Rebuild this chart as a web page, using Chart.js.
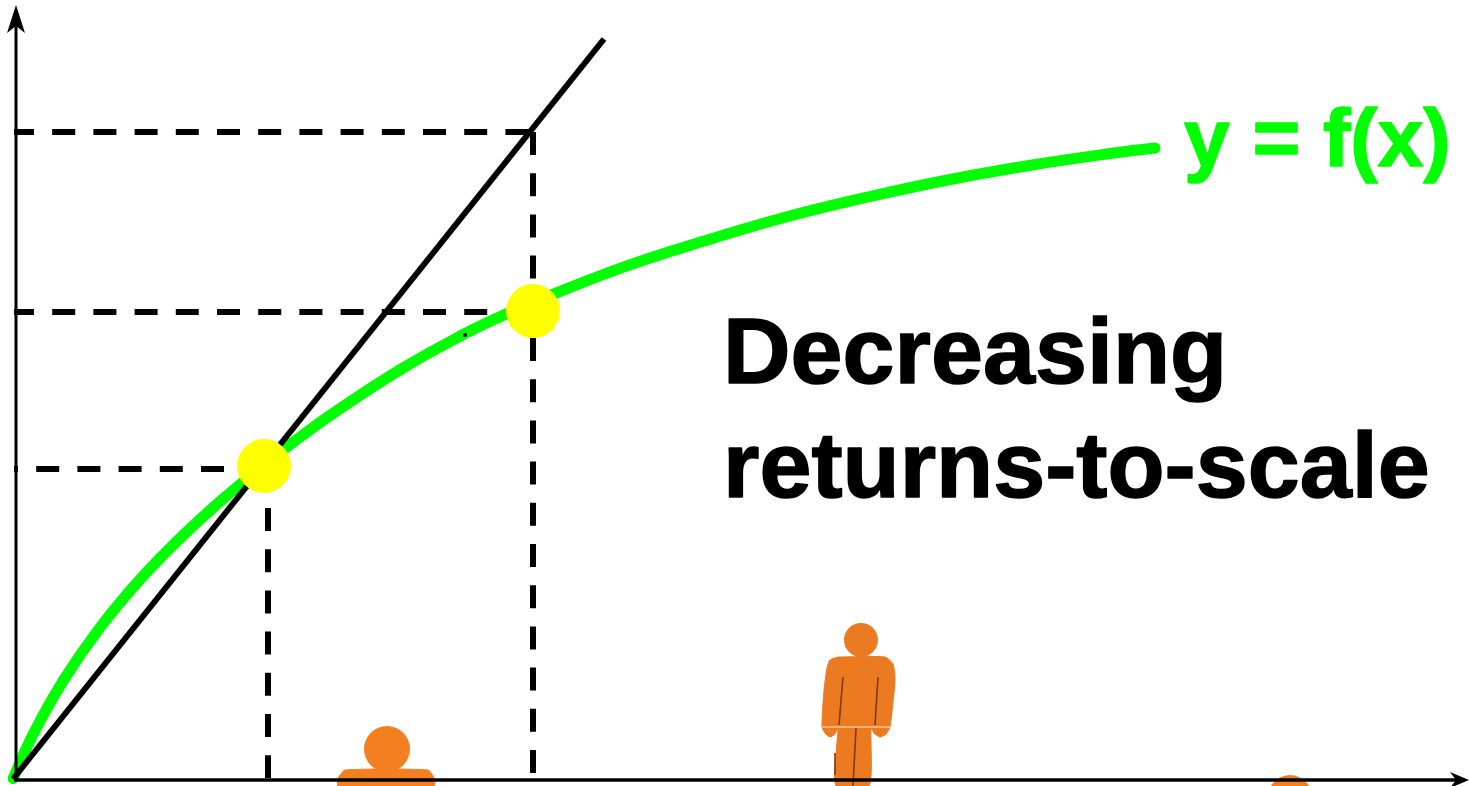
<!DOCTYPE html>
<html>
<head>
<meta charset="utf-8">
<title>Decreasing returns-to-scale</title>
<script src="https://cdn.jsdelivr.net/npm/chart.js@4"></script>
<style>
  html, body { margin: 0; padding: 0; background: #fff; overflow: hidden; }
  canvas { display: block; }
</style>
</head>
<body>
<canvas id="chart" width="1469" height="786"></canvas>
<script>
const curveX = [13, 33, 63, 100, 140, 180, 220, 264, 300, 333, 400, 460, 500, 533, 622, 704, 786, 868, 950, 1032, 1114, 1155];
const curveY = [778.5, 734.5, 681, 627.5, 579.5, 538.3, 501.5, 465, 437.2, 413.4, 369.8, 336.2, 316.7, 302.3, 267.6, 241, 217, 197, 179.5, 165, 153, 148];
const rayX = [13, 604];
const rayY = [779, 39];
const markerX = [264, 533];
const markerY = [466, 311];
const guideLevels = [132, 312, 469];
const guideEnds = [533, 533, 240];
const guideFeet = [533, 268];
const guideTops = [132, 508];
const guideBottoms = [775, 778];
const yAxisX = [16, 16];
const yAxisY = [780, 12];
const xAxisX = [14, 1462];
const xAxisY = [780, 780];
const speckX = [465];
const speckY = [335];

const tallBodyX = [838, 885, 893, 895, 890, 886, 880, 874, 871, 869, 836, 838, 835, 830, 825, 822, 824, 827, 830];
const tallBodyY = [657, 657, 664, 680, 727, 734, 737, 733, 728, 786, 786, 728, 734, 737, 733, 727, 690, 668, 660];
const tallHeadX = [861];
const tallHeadY = [640];
const seams = [
  { x: [843, 839], y: [677, 725] },
  { x: [878, 875], y: [677, 725] },
  { x: [856, 853], y: [728, 786] },
  { x: [835, 835], y: [753, 775] }
];
const midBodyX = [338, 345, 428, 434, 434, 338];
const midBodyY = [778, 770, 770, 778, 786, 786];
const midHeadX = [387];
const midHeadY = [749];
const farHeadX = [1290];
const farHeadY = [797];

const curveName = 'y = f(x)';
const captionLines = ['Decreasing', 'returns-to-scale'];

const GREEN = '#00ff00';
const ORANGE = '#ec7a20';

function pts(xs, ys) {
  return xs.map((x, i) => ({ x: x, y: ys[i] }));
}

function pathSet(xs, ys, color, width, extra) {
  return Object.assign({
    data: pts(xs, ys),
    showLine: true,
    borderColor: color,
    borderWidth: width,
    pointRadius: 0,
    tension: 0,
    fill: false
  }, extra || {});
}

function dotSet(xs, ys, color, radius) {
  return {
    data: pts(xs, ys),
    showLine: false,
    pointStyle: 'circle',
    pointRadius: radius,
    pointBorderWidth: 0,
    pointBackgroundColor: color
  };
}

function shapeSet(xs, ys, color) {
  return pathSet(xs.concat(xs[0]), ys.concat(ys[0]), color, 1, { fill: 'shape', backgroundColor: color, tension: 0.2 });
}

const dash = { borderDash: [23, 18.2], borderCapStyle: 'butt' };

// first dataset ends up on top
const datasets = [
  dotSet(markerX, markerY, '#ffff00', 27),
  pathSet(xAxisX, xAxisY, '#000', 3.5),
  pathSet(yAxisX, yAxisY, '#000', 3),
  dotSet(speckX, speckY, '#000', 2),
  pathSet(rayX, rayY, '#000', 6),
  pathSet(curveX, curveY, GREEN, 11, { tension: 0.4, borderCapStyle: 'round' }),
  pathSet([14, guideEnds[0]], [guideLevels[0], guideLevels[0]], '#000', 6, Object.assign({ borderDashOffset: 3 }, dash)),
  pathSet([14, guideEnds[1]], [guideLevels[1], guideLevels[1]], '#000', 6, Object.assign({ borderDashOffset: 3 }, dash)),
  pathSet([14, guideEnds[2]], [guideLevels[2], guideLevels[2]], '#000', 6, Object.assign({ borderDashOffset: 19 }, dash)),
  pathSet([guideFeet[0], guideFeet[0]], [guideTops[0], guideBottoms[0]], '#000', 6, dash),
  pathSet([guideFeet[1], guideFeet[1]], [guideTops[1], guideBottoms[1]], '#000', 6, dash)
];

seams.forEach(s => datasets.push(pathSet(s.x, s.y, '#7a3c0e', 1.6)));
datasets.push(
  pathSet([822, 890], [727, 727], '#fbe3cf', 1),
  shapeSet(tallBodyX, tallBodyY, ORANGE),
  dotSet(tallHeadX, tallHeadY, ORANGE, 17),
  shapeSet(midBodyX, midBodyY, '#f47f20'),
  dotSet(midHeadX, midHeadY, '#f47f20', 23),
  dotSet(farHeadX, farHeadY, '#f47f20', 22)
);

// arrow heads and the two text blocks, placed through the scales
const decorations = {
  id: 'decorations',
  afterDatasetsDraw(chart) {
    const { ctx, scales } = chart;
    const px = v => scales.x.getPixelForValue(v);
    const py = v => scales.y.getPixelForValue(v);

    ctx.save();
    ctx.fillStyle = '#000';
    ctx.beginPath();
    ctx.moveTo(px(16), py(5));
    ctx.lineTo(px(25), py(33));
    ctx.lineTo(px(16), py(26));
    ctx.lineTo(px(7), py(33));
    ctx.closePath();
    ctx.fill();
    ctx.beginPath();
    ctx.moveTo(px(1469), py(780));
    ctx.lineTo(px(1450), py(772));
    ctx.lineTo(px(1456), py(780));
    ctx.lineTo(px(1450), py(788));
    ctx.closePath();
    ctx.fill();

    ctx.textAlign = 'left';
    ctx.textBaseline = 'alphabetic';
    ctx.lineJoin = 'round';
    ctx.lineWidth = 1.5;
    ctx.fillStyle = GREEN;
    ctx.strokeStyle = GREEN;
    ctx.font = 'bold 82px "Liberation Sans"';
    ctx.fillText(curveName, px(1184), py(166));
    ctx.strokeText(curveName, px(1184), py(166));
    ctx.fillStyle = '#000';
    ctx.strokeStyle = '#000';
    ctx.font = 'bold 93.5px "Liberation Sans"';
    ctx.fillText(captionLines[0], px(723), py(383));
    ctx.strokeText(captionLines[0], px(723), py(383));
    ctx.fillText(captionLines[1], px(723), py(497));
    ctx.strokeText(captionLines[1], px(723), py(497));
    ctx.restore();
  }
};

new Chart(document.getElementById('chart'), {
  type: 'scatter',
  data: { datasets: datasets },
  options: {
    responsive: false,
    animation: false,
    layout: { padding: 0, autoPadding: false },
    plugins: { legend: { display: false }, tooltip: { enabled: false } },
    scales: {
      x: { type: 'linear', min: 0, max: 1469, display: false },
      y: { type: 'linear', min: 0, max: 786, reverse: true, display: false }
    }
  },
  plugins: [decorations]
});
</script>
</body>
</html>
